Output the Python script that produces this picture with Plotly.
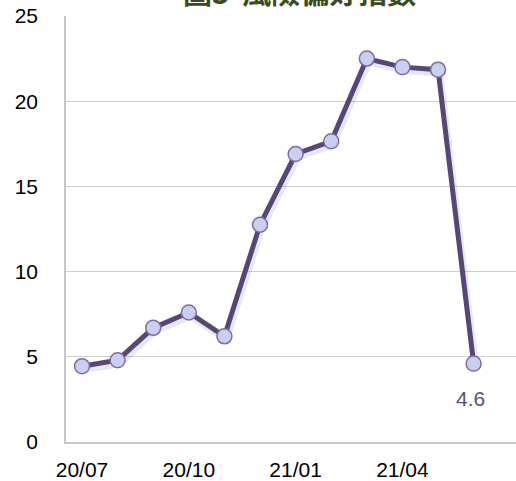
import plotly.graph_objects as go

months = ["20/07", "20/08", "20/09", "20/10", "20/11", "20/12",
          "21/01", "21/02", "21/03", "21/04", "21/05", "21/06"]
risk_index = [4.45, 4.8, 6.7, 7.6, 6.2, 12.75, 16.9, 17.65, 22.5, 22.0, 21.85, 4.6]
tick_labels = ["20/07", "20/10", "21/01", "21/04"]
tick_pos = [0, 3, 6, 9]
y_ticks = [0, 5, 10, 15, 20, 25]
title_text = "圖3  風險偏好指數"
last_label = "4.6"

x_idx = list(range(len(months)))
line_color = "#584679"
font_family = "Liberation Sans, Arial, sans-serif"

fig = go.Figure()
# soft shadow
fig.add_trace(go.Scatter(
    x=[v + 0.05 for v in x_idx], y=[v - 0.2 for v in risk_index], mode="lines",
    line=dict(color="rgba(0,0,0,0.09)", width=7), hoverinfo="skip", showlegend=False))
fig.add_trace(go.Scatter(
    x=x_idx, y=risk_index, mode="lines+markers",
    line=dict(color=line_color, width=5),
    marker=dict(size=15, color="#C9CFEE", line=dict(color="#7C6CA6", width=1.5)),
    showlegend=False, customdata=months,
    hovertemplate="%{customdata}: %{y}<extra></extra>"))

fig.add_annotation(x=x_idx[-1], y=risk_index[-1], text=last_label, showarrow=False,
                   yshift=-35, xshift=-3, font=dict(size=21, color="#5E4E86", family=font_family))
fig.add_annotation(xref="paper", yref="paper", x=0.2556, y=1.0, yshift=25,
                   text="<b>" + title_text + "</b>", showarrow=False,
                   xanchor="left", yanchor="middle",
                   font=dict(size=29, color="#3C4A22", family="Noto Sans CJK TC, sans-serif"))

fig.update_layout(
    width=516, height=481,
    margin=dict(l=66, r=0, t=16, b=39, autoexpand=False),
    paper_bgcolor="white", plot_bgcolor="white",
    font=dict(family=font_family, size=21, color="black"),
    hovermode="closest",
)
fig.update_xaxes(range=[-0.45, 12.19], tickmode="array", tickvals=tick_pos,
                 ticktext=tick_labels, showgrid=False, zeroline=False,
                 showline=True, linecolor="#C8C8C8", linewidth=1.5, ticks="",
                 ticklabelstandoff=8, tickfont=dict(size=21), automargin=False)
fig.update_yaxes(range=[0, 25], tickmode="array", tickvals=y_ticks,
                 showgrid=True, gridcolor="#CFCFCF", gridwidth=1, zeroline=False,
                 showline=True, linecolor="#C8C8C8", linewidth=1.5, ticks="",
                 ticklabelstandoff=22, tickfont=dict(size=21), automargin=False)

fig.write_html("out.html", config={"displayModeBar": False},
               post_script="document.body.style.margin='0';document.body.style.padding='0';"
                           "document.body.style.overflow='hidden';")
